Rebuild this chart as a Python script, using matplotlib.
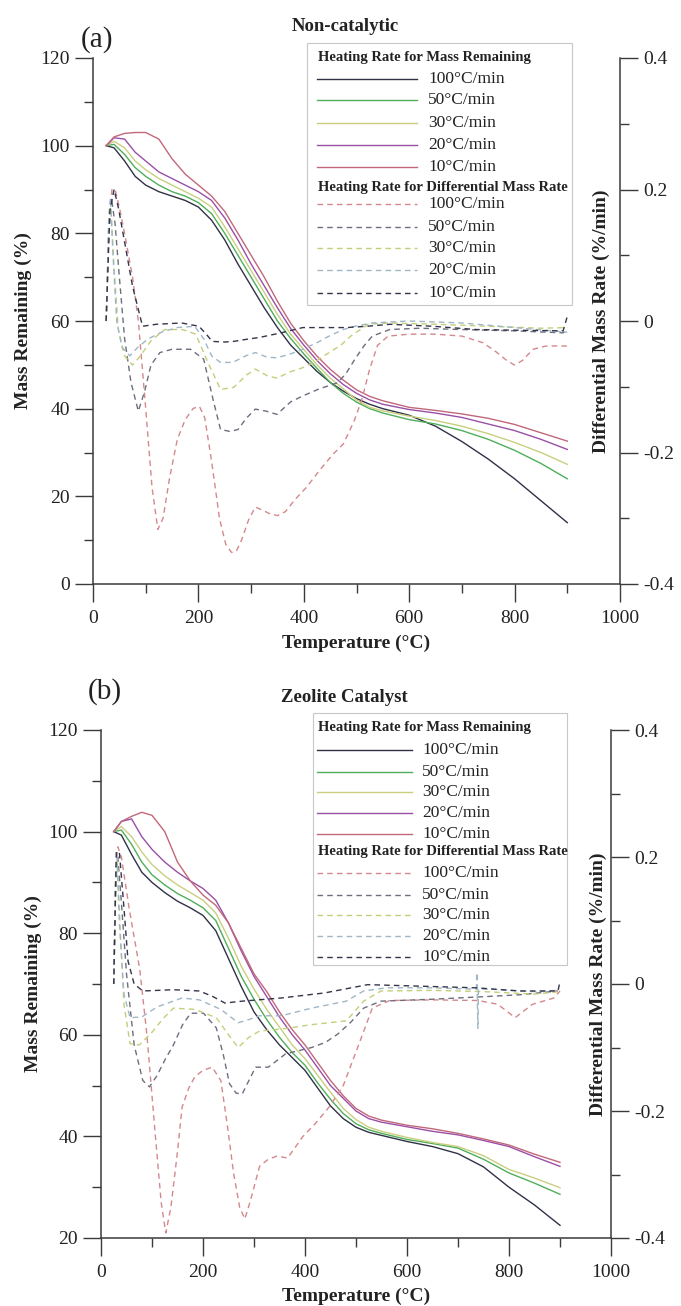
import matplotlib.pyplot as plt
import numpy as np
from matplotlib.patches import Rectangle
from matplotlib.ticker import MultipleLocator, FuncFormatter

# ---- data -------------------------------------------------------------
rates = ['100°C/min', '50°C/min', '30°C/min', '20°C/min', '10°C/min']

# (a) non-catalytic, mass remaining (%)
a_temp = [25, 40, 60, 80, 100, 125, 150, 175, 200, 225, 250, 275, 300, 325, 350,
          375, 400, 425, 450, 475, 500, 525, 550, 600, 650, 700, 750, 800, 850, 900]
a_mass100 = [100, 99.5, 96.5, 93, 91, 89.5, 88.5, 87.5, 86, 83, 78.5, 73, 68, 63, 58.5,
             54.5, 51.5, 48.5, 46, 44, 42.3, 41, 40, 38.5, 36, 32.5, 28.5, 24, 19, 14]
a_mass50 = [100, 100.3, 98, 95, 93, 91, 89.5, 88.5, 87, 84.5, 80, 75, 70, 65, 60,
            56, 52.5, 49.2, 46, 43.5, 41.5, 40, 39, 37.5, 36.5, 35, 33, 30.5, 27.5, 24]
a_mass30 = [100, 101, 99.5, 96.5, 94.5, 92.5, 91, 89.5, 88, 86, 81.5, 76.5, 71.5, 66.5, 61.5,
            57, 53.5, 50, 47, 44.5, 42, 40.3, 39.5, 38.3, 37.3, 36, 34.3, 32.3, 30, 27.3]
a_mass20 = [100, 101.8, 101.5, 98.5, 96.5, 94, 92.5, 91, 89.5, 87.5, 83.5, 78.5, 73, 68, 63,
            58.3, 54.5, 51, 48, 45.5, 43.5, 42, 41, 39.8, 39, 38, 36.5, 35, 33, 30.7]
a_mass10 = [100, 102, 102.8, 103, 103, 101.5, 97, 93.5, 91, 88.5, 85, 80, 75, 70, 64.5,
            59.5, 55.5, 52, 49, 46.5, 44.3, 42.8, 41.8, 40.3, 39.6, 38.8, 37.8, 36.4, 34.5, 32.6]

# (a) differential mass rate (%/min)
a_dtg100_T = [25, 30, 36, 42, 50, 60, 75, 86, 100, 112, 123, 133, 145, 160, 175, 190, 202,
              212, 225, 240, 252, 263, 272, 282, 295, 308, 320, 335, 350, 365, 385, 405,
              430, 455, 475, 495, 510, 525, 540, 560, 600, 650, 700, 740, 765, 785, 800,
              815, 835, 860, 900]
a_dtg100 = [0, .147, .2, .2, .173, .133, .067, 0, -.133, -.253, -.317, -.3, -.24, -.18,
            -.15, -.133, -.13, -.147, -.213, -.3, -.34, -.352, -.35, -.333, -.303, -.283,
            -.287, -.293, -.296, -.29, -.27, -.253, -.227, -.203, -.187, -.153, -.12,
            -.073, -.037, -.023, -.02, -.02, -.023, -.033, -.047, -.06, -.067, -.06,
            -.043, -.038, -.038]
a_dtg50_T = [25, 30, 35, 42, 50, 60, 72, 86, 98, 110, 127, 150, 185, 210, 228, 242, 260,
             275, 292, 308, 328, 349, 375, 398, 430, 464, 480, 497, 515, 530, 563, 620,
             700, 800, 892, 900]
a_dtg50 = [0, .133, .187, .147, .067, -.027, -.093, -.137, -.107, -.067, -.048, -.043,
           -.043, -.058, -.12, -.165, -.168, -.165, -.147, -.134, -.137, -.142, -.123,
           -.114, -.103, -.094, -.08, -.058, -.037, -.023, -.013, -.011, -.013, -.015,
           -.018, -.013]
a_dtg30_T = [25, 30, 34, 40, 48, 60, 75, 90, 110, 136, 170, 195, 218, 242, 267, 290, 308,
             330, 349, 375, 398, 425, 448, 470, 489, 522, 560, 650, 750, 850, 900]
a_dtg30 = [0, .147, .173, .08, -.013, -.053, -.067, -.053, -.03, -.013, -.013, -.02,
           -.063, -.104, -.101, -.083, -.073, -.083, -.087, -.077, -.071, -.06, -.048,
           -.037, -.023, -.005, -.003, -.005, -.008, -.011, -.01]
a_dtg20_T = [25, 30, 33, 38, 45, 55, 70, 85, 105, 130, 160, 193, 210, 225, 242, 265, 290,
             308, 330, 349, 375, 398, 425, 448, 475, 497, 530, 600, 700, 800, 900]
a_dtg20 = [0, .16, .187, .1, 0, -.04, -.053, -.04, -.027, -.017, -.01, -.008, -.027,
           -.053, -.063, -.063, -.053, -.048, -.055, -.056, -.05, -.043, -.033, -.023,
           -.013, -.008, -.003, 0, -.003, -.01, -.017]
a_dtg10_T = [25, 32, 40, 48, 60, 75, 94, 120, 168, 201, 215, 226, 250, 267, 290, 316, 357,
             398, 481, 520, 563, 645, 727, 800, 892, 900]
a_dtg10 = [0, .167, .2, .173, .12, .053, -.008, -.005, -.003, -.008, -.02, -.031, -.032,
           -.031, -.028, -.025, -.018, -.01, -.01, -.008, -.005, -.008, -.013, -.014,
           -.015, .007]

# (b) zeolite catalyst, mass remaining (%)
b_temp = a_temp
b_mass100 = [100, 99.3, 95.5, 92, 90, 88, 86.3, 85, 83.5, 80.5, 75, 69.5, 64.5, 61, 58,
             55.5, 53, 49.5, 46, 43.5, 41.8, 40.8, 40.2, 39, 38, 36.6, 34, 30, 26.5, 22.5]
b_mass50 = [100, 100.3, 97.5, 94, 91.5, 89.5, 87.8, 86.5, 85, 82.5, 77, 71.5, 67, 63, 59.5,
            56.5, 54, 50.5, 47.3, 44.5, 42.5, 41.3, 40.6, 39.4, 38.6, 37.7, 35.5, 32.8, 30.8, 28.6]
b_mass30 = [100, 101, 99, 96, 93.5, 91.3, 89.5, 88, 86.5, 84, 79, 73.5, 69, 65, 61.5,
            58, 55.3, 52, 48.7, 45.5, 43.3, 41.8, 41, 39.8, 38.8, 38, 36.2, 33.5, 31.8, 29.9]
b_mass20 = [100, 102, 102.5, 99, 96.5, 94, 92, 90.3, 88.8, 86.5, 82, 76.5, 71.5, 67.5, 63.5,
            60, 57, 53.5, 50, 47.5, 45, 43.5, 42.8, 41.9, 41, 40.3, 39.2, 38, 36, 34.1]
b_mass10 = [100, 102, 103, 103.8, 103.2, 100, 94, 90.3, 87.5, 85.5, 82, 77, 72, 68.5, 64.5,
            61, 58, 54.5, 51, 48, 45.5, 44, 43.2, 42.2, 41.5, 40.6, 39.5, 38.3, 36.5, 34.9]

# (b) differential mass rate (%/min)
b_dtg100_T = [25, 29, 33, 40, 55, 76, 90, 105, 118, 127, 137, 150, 159, 172, 184, 200, 218,
              235, 248, 260, 272, 282, 292, 311, 328, 345, 366, 396, 420, 447, 475, 506,
              532, 566, 650, 740, 778, 812, 846, 888, 900]
b_dtg100 = [0, .176, .216, .2, .12, .023, -.08, -.224, -.344, -.392, -.352, -.264, -.194,
            -.164, -.146, -.136, -.131, -.152, -.224, -.298, -.352, -.37, -.344, -.287,
            -.276, -.271, -.274, -.24, -.22, -.194, -.16, -.094, -.038, -.026, -.025,
            -.026, -.032, -.053, -.032, -.022, -.011]
b_dtg50_T = [25, 29, 33, 40, 50, 65, 82, 95, 110, 125, 142, 160, 176, 201, 226, 240, 252,
             265, 277, 290, 303, 328, 362, 413, 440, 464, 490, 515, 549, 650, 750, 820, 896]
b_dtg50 = [0, .16, .2, .128, .016, -.096, -.152, -.162, -.144, -.12, -.096, -.064, -.046,
           -.046, -.069, -.112, -.157, -.172, -.173, -.152, -.131, -.131, -.11, -.1,
           -.092, -.079, -.06, -.038, -.027, -.024, -.02, -.017, -.011]
b_dtg30_T = [25, 28, 32, 38, 45, 57, 75, 100, 120, 142, 184, 226, 250, 269, 290, 311, 354,
             413, 481, 515, 549, 650, 750, 850, 900]
b_dtg30 = [0, .16, .192, .08, -.032, -.094, -.096, -.076, -.056, -.038, -.04, -.053, -.08,
           -.1, -.084, -.074, -.071, -.064, -.058, -.027, -.011, -.01, -.012, -.016, -.012]
b_dtg20_T = [25, 28, 31, 36, 45, 57, 80, 110, 159, 193, 235, 269, 290, 311, 354, 413, 481,
             515, 560, 650, 725, 736, 737, 739, 740, 760, 850, 900]
b_dtg20 = [0, .144, .208, .096, -.016, -.053, -.052, -.036, -.022, -.025, -.04, -.061,
           -.056, -.05, -.05, -.038, -.027, -.011, -.006, -.006, -.008, -.008, .018,
           -.07, -.008, -.008, -.012, -.01]
b_dtg10_T = [25, 30, 36, 45, 53, 65, 82, 142, 193, 220, 243, 277, 354, 439, 523, 650, 735,
             820, 896, 900]
b_dtg10 = [0, .208, .208, .12, .036, 0, -.011, -.009, -.011, -.02, -.03, -.027, -.022,
           -.014, -.001, -.004, -.006, -.011, -.011, .004]

solid_colors = ['#2f3147', '#4fae5a', '#c9cf7f', '#9a4fa6', '#c2677a']
dash_colors = ['#d4888c', '#6d6e7e', '#c3cf78', '#9fb6c6', '#34354a']

# ---- figure -----------------------------------------------------------
plt.rcParams['font.family'] = ['Liberation Serif', 'DejaVu Serif']
plt.rcParams['text.color'] = '#222222'
plt.rcParams['axes.labelcolor'] = '#222222'

W, H = 681, 1306
fig = plt.figure(figsize=(W / 100, H / 100), dpi=100)
fig.patch.set_facecolor('white')

box_a = (93, 58, 620, 584)
box_b = (101, 730, 611, 1238)


def add_axes_px(box):
    l, t, r, b = box
    return fig.add_axes([l / W, 1 - b / H, (r - l) / W, (b - t) / H])


def to_ax(box, x, y):
    l, t, r, b = box
    return (x - l) / (r - l), (b - y) / (b - t)


def rate_fmt(v, _):
    if abs(v) < 1e-9:
        return '0'
    return f'{v:.1f}'


def setup_panel(box, ylo, mass, temp, dtgs, title, tag, tag_y, title_y, ylab_x, rlab_x, leg):
    ax = add_axes_px(box)
    ax2 = ax.twinx()
    for i, m in enumerate(mass):
        ax.plot(temp, m, color=solid_colors[i], lw=1.0)
    for i, (t, d) in enumerate(dtgs):
        ax2.plot(t, d, color=dash_colors[i], lw=1.0, ls=(0, (4, 3)))

    ax.set_xlim(0, 1000)
    ax.set_ylim(ylo, 120)
    ax2.set_ylim(-0.4, 0.4)
    ax.xaxis.set_major_locator(MultipleLocator(200))
    ax.xaxis.set_minor_locator(MultipleLocator(100))
    ax.yaxis.set_major_locator(MultipleLocator(20))
    ax.yaxis.set_minor_locator(MultipleLocator(10))
    ax2.yaxis.set_major_locator(MultipleLocator(0.2))
    ax2.yaxis.set_minor_locator(MultipleLocator(0.1))
    ax2.yaxis.set_major_formatter(FuncFormatter(rate_fmt))

    for a in (ax, ax2):
        a.tick_params(which='major', direction='out', length=13, width=1.0,
                      labelsize=14, color='#3a3a3a', labelcolor='#222222')
        a.tick_params(which='minor', direction='out', length=6.5, width=1.0, color='#3a3a3a')
        for s in a.spines.values():
            s.set_color('#3a3a3a')
            s.set_linewidth(1.1)
    ax.tick_params(axis='x', pad=6)
    ax.spines['top'].set_visible(False)
    ax.spines['right'].set_visible(False)
    for s in ('top', 'left', 'bottom'):
        ax2.spines[s].set_visible(False)

    ax.set_xlabel('Temperature (°C)', fontsize=14, fontweight='bold')
    ax.xaxis.set_label_coords(0.5, -0.097)
    ax.set_ylabel('Mass Remaining (%)', fontsize=14, fontweight='bold')
    ax.yaxis.set_label_coords(ylab_x, 0.5)
    ax2.set_ylabel('Differential Mass Rate (%/min)', fontsize=14, fontweight='bold')
    ax2.yaxis.set_label_coords(rlab_x, 0.5)

    ax.text(0.478, title_y, title, transform=ax.transAxes, ha='center', va='center',
            fontsize=13.5, fontweight='bold')
    ax.text(0.008, tag_y, tag, transform=ax.transAxes, ha='center', va='center', fontsize=21)

    # legend box
    (x0, y0, x1, y1), hdr, solid_y, hdr2, dash_y, lx0, lx1, tx = leg
    fx0, fy0 = to_ax(box, x0, y1)
    fx1, fy1 = to_ax(box, x1, y0)
    ax2.add_patch(Rectangle((fx0, fy0), fx1 - fx0, fy1 - fy0, transform=ax2.transAxes,
                            facecolor='white', edgecolor='#c8c8c8', lw=0.8,
                            clip_on=False, zorder=10))
    hx, hy = to_ax(box, 318, hdr)
    ax2.text(hx, hy, 'Heating Rate for Mass Remaining', transform=ax2.transAxes,
             fontsize=10.5, fontweight='bold', va='center', zorder=11)
    hx, hy = to_ax(box, 318, hdr2)
    ax2.text(hx, hy, 'Heating Rate for Differential Mass Rate', transform=ax2.transAxes,
             fontsize=10.5, fontweight='bold', va='center', zorder=11)
    for rows, colors, ls in ((solid_y, solid_colors, '-'), (dash_y, dash_colors, (0, (4, 3)))):
        for i, yy in enumerate(rows):
            ax0, ay = to_ax(box, lx0, yy)
            axe, _ = to_ax(box, lx1, yy)
            ax2.plot([ax0, axe], [ay, ay], transform=ax2.transAxes, color=colors[i],
                     lw=1.0, ls=ls, clip_on=False, zorder=11)
            txx, _ = to_ax(box, tx, yy)
            ax2.text(txx, ay, rates[i], transform=ax2.transAxes, fontsize=12.5,
                     va='center', zorder=11)
    return ax, ax2


setup_panel(box_a, 0, [a_mass100, a_mass50, a_mass30, a_mass20, a_mass10], a_temp,
            [(a_dtg100_T, a_dtg100), (a_dtg50_T, a_dtg50), (a_dtg30_T, a_dtg30),
             (a_dtg20_T, a_dtg20), (a_dtg10_T, a_dtg10)],
            'Non-catalytic', '(a)', 1.036, 1.059, -0.116, 0.949,
            ((307, 43, 572, 305), 57, [79, 100, 123, 145, 167], 188,
             [204, 227, 248, 270, 293], 317, 417, 428))

setup_panel(box_b, 20, [b_mass100, b_mass50, b_mass30, b_mass20, b_mass10], b_temp,
            [(b_dtg100_T, b_dtg100), (b_dtg50_T, b_dtg50), (b_dtg30_T, b_dtg30),
             (b_dtg20_T, b_dtg20), (b_dtg10_T, b_dtg10)],
            'Zeolite Catalyst', '(b)', 1.075, 1.063, -0.116, 0.959,
            ((313, 713, 567, 965), 727, [750, 772, 792, 813, 834], 852,
             [873, 895, 915, 936, 957], 317, 412, 422))

fig.savefig('out.png', dpi=100)
